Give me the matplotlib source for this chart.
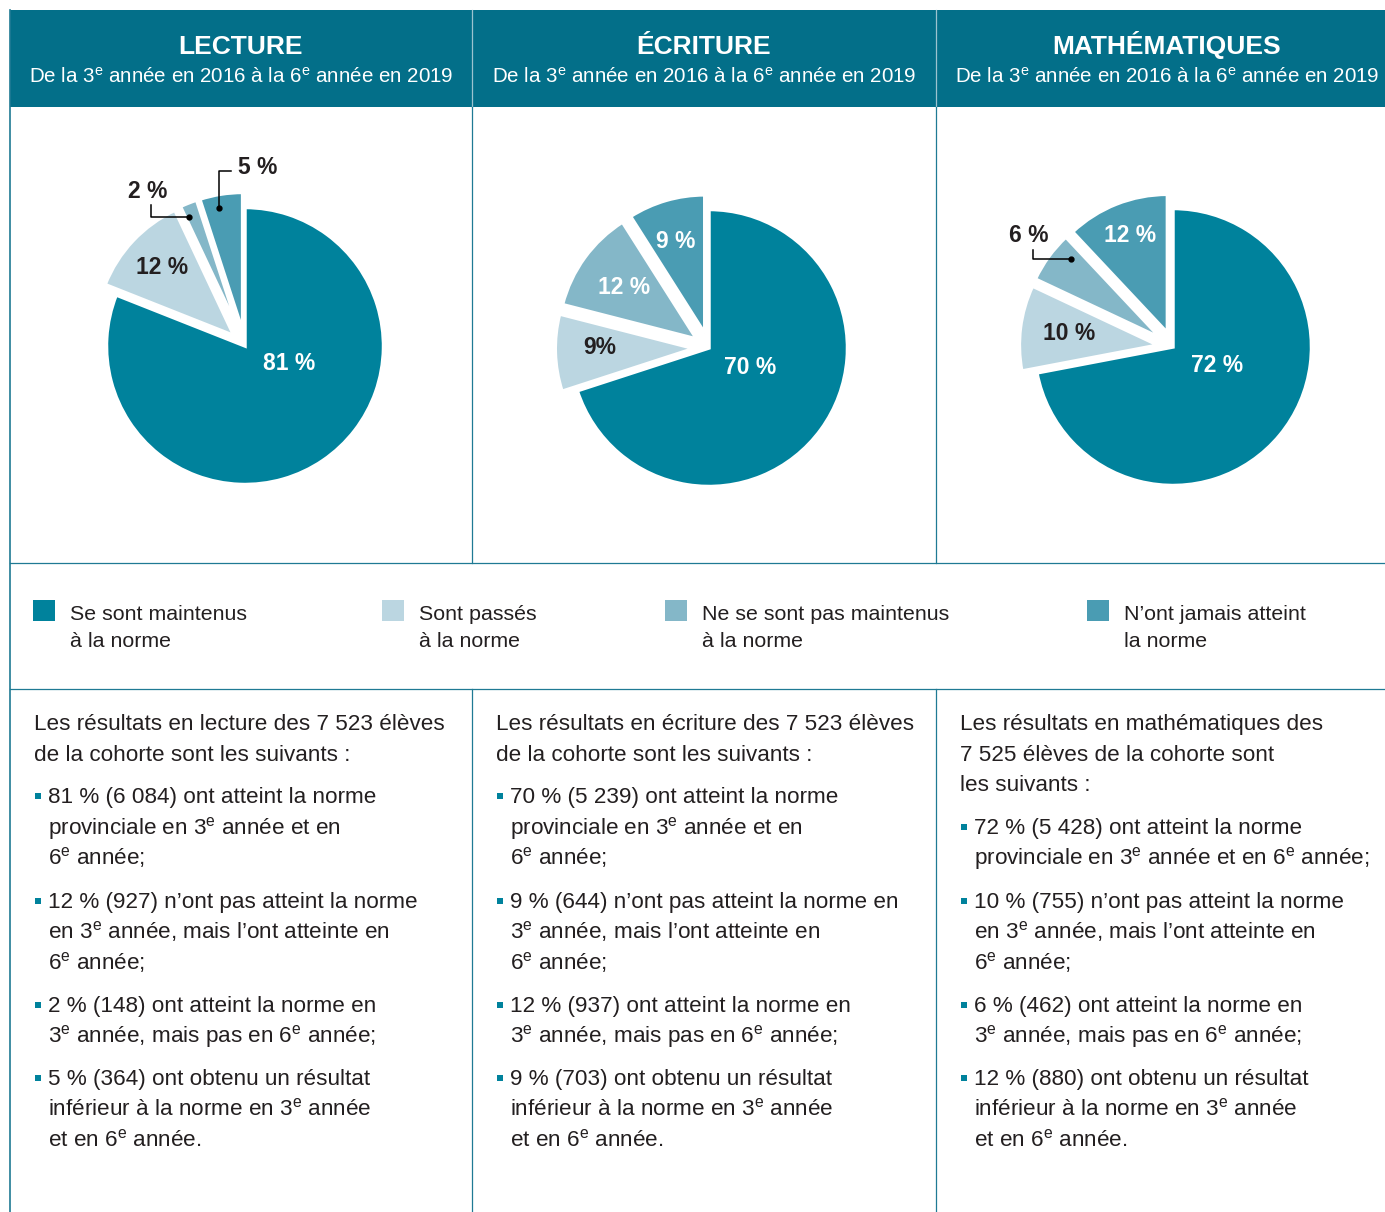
import re
import matplotlib
matplotlib.use('Agg')
import matplotlib.pyplot as plt
from matplotlib.patches import Rectangle

# -----------------------------------------------------------------------------
# polices : Liberation Sans (métrique Arial) + exposants via mathtext
# -----------------------------------------------------------------------------
plt.rcParams['font.family'] = ['Liberation Sans', 'DejaVu Sans']
plt.rcParams['mathtext.fontset'] = 'custom'
plt.rcParams['mathtext.rm'] = 'Liberation Sans'
plt.rcParams['mathtext.it'] = 'Liberation Sans:italic'
plt.rcParams['mathtext.bf'] = 'Liberation Sans:bold'

# =============================================================================
# données
# =============================================================================
subjects = ['LECTURE', 'ÉCRITURE', 'MATHÉMATIQUES']
subtitle = 'De la 3^e année en 2016 à la 6^e année en 2019'

categories = ['Se sont maintenus\nà la norme',
              'Sont passés\nà la norme',
              'Ne se sont pas maintenus\nà la norme',
              'N’ont jamais atteint\nla norme']

lecture_pct = [81, 12, 2, 5]
ecriture_pct = [70, 9, 12, 9]
maths_pct = [72, 10, 6, 12]

lecture_labels = ['81 %', '12 %', '2 %', '5 %']
ecriture_labels = ['70 %', '9%', '12 %', '9 %']
maths_labels = ['72 %', '10 %', '6 %', '12 %']

intro_lecture = ['Les résultats en lecture des 7 523 élèves',
                 'de la cohorte sont les suivants :']
bullets_lecture = [
    ['81 % (6 084) ont atteint la norme', 'provinciale en 3^e année et en', '6^e année;'],
    ['12 % (927) n’ont pas atteint la norme', 'en 3^e année, mais l’ont atteinte en', '6^e année;'],
    ['2 % (148) ont atteint la norme en', '3^e année, mais pas en 6^e année;'],
    ['5 % (364) ont obtenu un résultat', 'inférieur à la norme en 3^e année', 'et en 6^e année.'],
]
intro_ecriture = ['Les résultats en écriture des 7 523 élèves',
                  'de la cohorte sont les suivants :']
bullets_ecriture = [
    ['70 % (5 239) ont atteint la norme', 'provinciale en 3^e année et en', '6^e année;'],
    ['9 % (644) n’ont pas atteint la norme en', '3^e année, mais l’ont atteinte en', '6^e année;'],
    ['12 % (937) ont atteint la norme en', '3^e année, mais pas en 6^e année;'],
    ['9 % (703) ont obtenu un résultat', 'inférieur à la norme en 3^e année', 'et en 6^e année.'],
]
intro_maths = ['Les résultats en mathématiques des',
               '7 525 élèves de la cohorte sont',
               'les suivants :']
bullets_maths = [
    ['72 % (5 428) ont atteint la norme', 'provinciale en 3^e année et en 6^e année;'],
    ['10 % (755) n’ont pas atteint la norme', 'en 3^e année, mais l’ont atteinte en', '6^e année;'],
    ['6 % (462) ont atteint la norme en', '3^e année, mais pas en 6^e année;'],
    ['12 % (880) ont obtenu un résultat', 'inférieur à la norme en 3^e année', 'et en 6^e année.'],
]

# =============================================================================
# style
# =============================================================================
C_HEADER = '#036F89'
C_LINE = '#1F7A94'
C_TEXT = '#231F20'
PIE_COLORS = ['#00829C', '#BBD6E1', '#84B7C8', '#4A9CB3']

W, H = 1385, 1212
fig = plt.figure(figsize=(W / 100, H / 100), dpi=100)


def sup(s):
    # 3^e -> 3 avec e en exposant
    return re.sub(r'(\d)\^e', r'$\\mathrm{\1}^{\\mathrm{e}}$', s)


# -----------------------------------------------------------------------------
# camemberts
# -----------------------------------------------------------------------------
centers = [(245, 346), (709, 348), (1173, 347)]
R = 138.5
S = 2 * R * 1.5
all_pct = [lecture_pct, ecriture_pct, maths_pct]
for (cx, cy), vals in zip(centers, all_pct):
    ax = fig.add_axes([(cx - S / 2) / W, 1 - (cy + S / 2) / H, S / W, S / H])
    ax.pie(vals, colors=PIE_COLORS, startangle=90, counterclock=False,
           explode=[0, 0.11, 0.11, 0.11], radius=1,
           wedgeprops=dict(edgecolor='white', linewidth=2.5))
    ax.set_xlim(-1.5, 1.5)
    ax.set_ylim(-1.5, 1.5)
    ax.set_aspect('equal')
    ax.axis('off')

# calque en pixels pour cadres, textes, étiquettes
ov = fig.add_axes([0, 0, 1, 1])
ov.set_xlim(0, W)
ov.set_ylim(H, 0)
ov.axis('off')
ov.patch.set_alpha(0)

# en-tête
ov.add_patch(Rectangle((10, 10), W - 10, 97, color=C_HEADER, lw=0))
col_centers = [241, 704, 1167]
for xc, name in zip(col_centers, subjects):
    ov.text(xc, 54, name, ha='center', va='baseline', color='white',
            fontsize=19, fontweight='bold')
    ov.text(xc, 83, sup(subtitle), ha='center', va='baseline', color='white',
            fontsize=14.8)
for xd in [472, 936]:
    ov.plot([xd, xd], [10, 107], color='#9CC3D0', lw=0.9)
    ov.plot([xd, xd], [107, 563], color=C_LINE, lw=0.9)
    ov.plot([xd, xd], [689, H], color=C_LINE, lw=0.9)
ov.plot([10, 10], [10, H], color=C_LINE, lw=1.2)
for yh in [563, 689]:
    ov.plot([10, W], [yh, yh], color=C_LINE, lw=0.9)

# étiquettes des camemberts
label_pos = [
    [(289, 363), (162, 268), (148, 191), (258, 168)],
    [(750, 367), (600, 347), (624, 288), (676, 241)],
    [(1217, 366), (1069, 333), (1029, 236), (1130, 236)],
]
label_col = [
    ['white', C_TEXT, C_TEXT, C_TEXT],
    ['white', C_TEXT, 'white', 'white'],
    ['white', C_TEXT, C_TEXT, 'white'],
]
all_labels = [lecture_labels, ecriture_labels, maths_labels]
for labs, pos, cols in zip(all_labels, label_pos, label_col):
    for lab, (x, y), c in zip(labs, pos, cols):
        ov.text(x, y, lab, ha='center', va='center', color=c,
                fontsize=16.5, fontweight='bold')

# lignes de rappel
leaders = [
    [(151, 205), (151, 217), (189, 217)],
    [(231, 171), (219, 171), (219, 208)],
    [(1033, 250), (1033, 259), (1071, 259)],
]
for pts in leaders:
    xs = [p[0] for p in pts]
    ys = [p[1] for p in pts]
    ov.plot(xs, ys, color='black', lw=1.1)
    ov.plot(xs[-1], ys[-1], 'o', color='black', ms=3.5)

# légende
leg_x = [33, 382, 665, 1087]
for x0, cat, c in zip(leg_x, categories, PIE_COLORS):
    ov.add_patch(Rectangle((x0, 600), 22, 21, color=c, lw=0))
    l1, l2 = cat.split('\n')
    ov.text(x0 + 37, 620, l1, ha='left', va='baseline', color=C_TEXT, fontsize=15.4)
    ov.text(x0 + 37, 647, l2, ha='left', va='baseline', color=C_TEXT, fontsize=15.4)

# texte explicatif
STEP = 30.7
GAP = 12
cols = [(34, intro_lecture, bullets_lecture),
        (496, intro_ecriture, bullets_ecriture),
        (960, intro_maths, bullets_maths)]
for x0, intro, bullets in cols:
    y = 730
    for line in intro:
        ov.text(x0, y, sup(line), ha='left', va='baseline', color=C_TEXT, fontsize=16.2)
        y += STEP
    y += GAP
    for item in bullets:
        ov.add_patch(Rectangle((x0 + 1, y - 10), 6, 6, color=PIE_COLORS[0], lw=0))
        for line in item:
            ov.text(x0 + 14, y, sup(line), ha='left', va='baseline', color=C_TEXT, fontsize=16.2)
            y += STEP
        y += GAP

plt.savefig('out.png', dpi=100, facecolor='white')
